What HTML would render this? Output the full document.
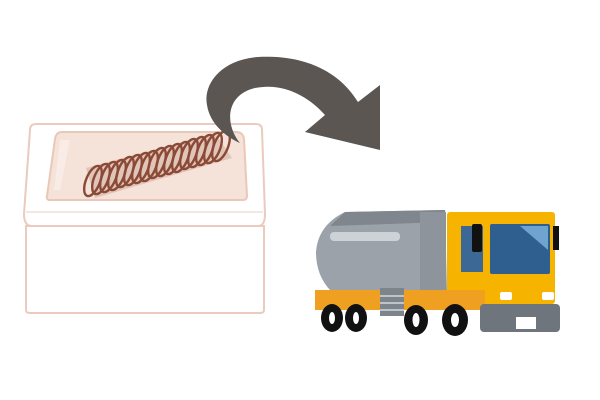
<!DOCTYPE html>
<html><head><style>html,body{margin:0;padding:0;background:#fff}svg{display:block}</style></head>
<body>
<svg width="600" height="400" viewBox="0 0 600 400" xmlns="http://www.w3.org/2000/svg">
<!-- bathtub -->
<path d="M26,226 L264,226 L264,310 Q264,313 260,313 L30,313 Q26,313 26,310 Z" fill="#fff" stroke="#eacbbd" stroke-width="2"/>
<path d="M36,124 L256,124 Q262,124 262,130 L265,214 Q265,226 258,226 L32,226 Q24,226 24,214 L30,130 Q30,124 36,124 Z" fill="#fff" stroke="#eacbbd" stroke-width="2"/>
<line x1="26" y1="212" x2="263" y2="212" stroke="#f2dfd5" stroke-width="1.5"/>
<path d="M62,132 L236,132 Q243,132 244,139 L247,196 Q247,200 243,200 L50,200 Q46,200 47,196 L55,139 Q56,132 62,132 Z" fill="#f5e2d9" stroke="#eac8b8" stroke-width="2"/>
<path d="M60,140 L70,140 L60,190 L54,190 Z" fill="#f9ece6"/>
<!-- coil -->
<path d="M86,168 L215,133 L232,158 L95,198 Z" fill="#c09080" opacity="0.35"/>
<g fill="none" stroke="#8a4a36" stroke-width="2.4">
<ellipse cx="93" cy="181" rx="7" ry="16" transform="rotate(22 93 181)"/>
<ellipse cx="101" cy="179" rx="7" ry="16" transform="rotate(22 101 179)"/>
<ellipse cx="109" cy="177" rx="7" ry="16" transform="rotate(22 109 177)"/>
<ellipse cx="117" cy="175" rx="7" ry="16" transform="rotate(22 117 175)"/>
<ellipse cx="125" cy="172" rx="7" ry="16" transform="rotate(22 125 172)"/>
<ellipse cx="133" cy="170" rx="7" ry="16" transform="rotate(22 133 170)"/>
<ellipse cx="141" cy="168" rx="7" ry="16" transform="rotate(22 141 168)"/>
<ellipse cx="149" cy="166" rx="7" ry="16" transform="rotate(22 149 166)"/>
<ellipse cx="157" cy="163" rx="7" ry="16" transform="rotate(22 157 163)"/>
<ellipse cx="165" cy="161" rx="7" ry="16" transform="rotate(22 165 161)"/>
<ellipse cx="173" cy="159" rx="7" ry="16" transform="rotate(22 173 159)"/>
<ellipse cx="181" cy="157" rx="7" ry="16" transform="rotate(22 181 157)"/>
<ellipse cx="189" cy="154" rx="7" ry="16" transform="rotate(22 189 154)"/>
<ellipse cx="197" cy="152" rx="7" ry="16" transform="rotate(22 197 152)"/>
<ellipse cx="205" cy="150" rx="7" ry="16" transform="rotate(22 205 150)"/>
<ellipse cx="213" cy="148" rx="7" ry="16" transform="rotate(22 213 148)"/>
<ellipse cx="221" cy="146" rx="7" ry="16" transform="rotate(22 221 146)"/>
</g>
<!-- arrow -->
<path d="M240,143 C225,125 225,95 255,88 C285,82 310,98 325,115 L305,132 L380,150 L380,85 L358,102 C335,65 295,55 258,57 C220,60 203,85 207,105 C210,125 228,138 240,143 Z" fill="#5b5652"/>
<!-- truck tank -->
<path d="M345,212 L445,210 L447,290 L330,290 Q316,275 316,252 Q318,225 345,212 Z" fill="#9ba2aa"/>
<path d="M345,212 L445,210 L446,222 L330,226 Z" fill="#7f868e"/>
<rect x="330" y="232" width="70" height="9" rx="4" fill="#cdd2d7"/>
<rect x="420" y="212" width="26" height="78" fill="#8d949c"/>
<!-- cab -->
<rect x="447" y="212" width="108" height="92" rx="3" fill="#f6b300"/>
<rect x="461" y="226" width="22" height="46" fill="#3b6895"/>
<rect x="472" y="224" width="10" height="28" rx="2" fill="#111"/>
<rect x="490" y="224" width="60" height="50" rx="2" fill="#2f5f8e"/>
<path d="M520,226 L548,226 L548,250 Z" fill="#6fa4cf"/>
<rect x="553" y="226" width="6" height="24" fill="#111"/>
<rect x="500" y="292" width="12" height="8" rx="2" fill="#fff"/>
<rect x="542" y="292" width="12" height="8" rx="2" fill="#fff"/>
<!-- chassis -->
<rect x="315" y="290" width="170" height="20" fill="#f0a020"/>
<rect x="380" y="288" width="24" height="28" fill="#7d848c"/>
<g stroke="#bfc4c9" stroke-width="2"><line x1="380" y1="296" x2="404" y2="296"/><line x1="380" y1="303" x2="404" y2="303"/><line x1="380" y1="310" x2="404" y2="310"/></g>
<rect x="480" y="304" width="80" height="28" rx="4" fill="#6e757c"/>
<rect x="516" y="317" width="20" height="12" fill="#fff"/>
<!-- wheels -->
<g fill="#111"><ellipse cx="332" cy="318" rx="11" ry="14"/><ellipse cx="356" cy="318" rx="11" ry="14"/><ellipse cx="416" cy="320" rx="12" ry="15"/><ellipse cx="455" cy="320" rx="13" ry="16"/></g>
<g fill="#fff"><ellipse cx="332" cy="318" rx="3" ry="6"/><ellipse cx="356" cy="318" rx="3" ry="6"/><ellipse cx="416" cy="320" rx="3.5" ry="7"/><ellipse cx="455" cy="320" rx="4" ry="7"/></g>
</svg>
</body></html>
